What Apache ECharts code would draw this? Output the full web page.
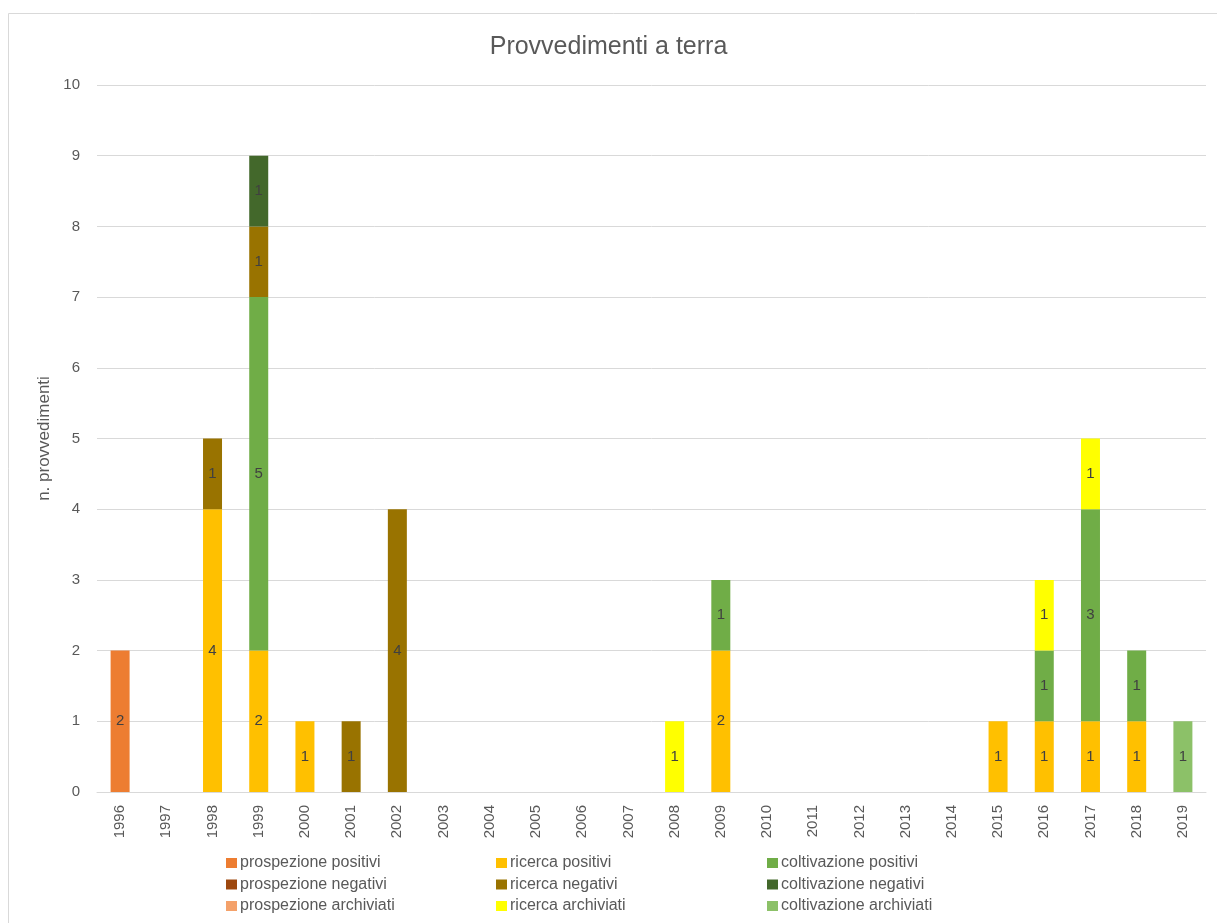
<!DOCTYPE html>
<html>
<head>
<meta charset="utf-8">
<title>Provvedimenti a terra</title>
<script src="https://cdn.jsdelivr.net/npm/echarts@6/dist/echarts.min.js"></script>
<style>
  html, body { margin: 0; padding: 0; background: #ffffff; }
  #chart { width: 1217px; height: 923px; }
</style>
</head>
<body>
<div id="chart"></div>
<script>
// Anni e conteggi dei provvedimenti per tipo ed esito
const years = ['1996','1997','1998','1999','2000','2001','2002','2003','2004','2005','2006','2007',
               '2008','2009','2010','2011','2012','2013','2014','2015','2016','2017','2018','2019'];

const prospezionePositivi   = [2,0,0,0,0,0,0,0,0,0,0,0, 0,0,0,0,0,0,0,0,0,0,0,0];
const ricercaPositivi       = [0,0,4,2,1,0,0,0,0,0,0,0, 0,2,0,0,0,0,0,1,1,1,1,0];
const coltivazionePositivi  = [0,0,0,5,0,0,0,0,0,0,0,0, 0,1,0,0,0,0,0,0,1,3,1,0];
const prospezioneNegativi   = [0,0,0,0,0,0,0,0,0,0,0,0, 0,0,0,0,0,0,0,0,0,0,0,0];
const ricercaNegativi       = [0,0,1,1,0,1,4,0,0,0,0,0, 0,0,0,0,0,0,0,0,0,0,0,0];
const coltivazioneNegativi  = [0,0,0,1,0,0,0,0,0,0,0,0, 0,0,0,0,0,0,0,0,0,0,0,0];
const prospezioneArchiviati = [0,0,0,0,0,0,0,0,0,0,0,0, 0,0,0,0,0,0,0,0,0,0,0,0];
const ricercaArchiviati     = [0,0,0,0,0,0,0,0,0,0,0,0, 1,0,0,0,0,0,0,0,1,1,0,0];
const coltivazioneArchiviati= [0,0,0,0,0,0,0,0,0,0,0,0, 0,0,0,0,0,0,0,0,0,0,0,1];

const yTicks = [0,1,2,3,4,5,6,7,8,9,10];

const seriesDefs = [
  { name: 'prospezione positivi',    data: prospezionePositivi,    color: '#ED7D31' },
  { name: 'ricerca positivi',        data: ricercaPositivi,        color: '#FFC000' },
  { name: 'coltivazione positivi',   data: coltivazionePositivi,   color: '#70AD47' },
  { name: 'prospezione negativi',    data: prospezioneNegativi,    color: '#9E480E' },
  { name: 'ricerca negativi',        data: ricercaNegativi,        color: '#997300' },
  { name: 'coltivazione negativi',   data: coltivazioneNegativi,   color: '#43682B' },
  { name: 'prospezione archiviati',  data: prospezioneArchiviati,  color: '#F4A16A' },
  { name: 'ricerca archiviati',      data: ricercaArchiviati,      color: '#FFFF00' },
  { name: 'coltivazione archiviati', data: coltivazioneArchiviati, color: '#8CC168' }
];

const FONT = 'Liberation Sans';
const TEXT = '#595959';

const series = seriesDefs.map(s => ({
  name: s.name,
  type: 'bar',
  stack: 'totale',
  barWidth: 19,
  data: s.data.map(v => (v === 0 ? null : v)),
  itemStyle: { color: s.color },
  label: {
    show: true,
    position: 'inside',
    color: '#404040',
    fontFamily: FONT,
    fontSize: 15,
    formatter: p => (p.value ? String(p.value) : '')
  },
  emphasis: { disabled: true }
}));

// Legenda su tre colonne: positivi / negativi / archiviati per ciascun tipo
function legendColumn(names, left) {
  return {
    orient: 'vertical',
    left: left,
    top: 855,
    height: 66,
    padding: 0,
    itemWidth: 11,
    itemHeight: 10,
    itemGap: 5.5,
    icon: 'rect',
    data: names,
    textStyle: { color: TEXT, fontFamily: FONT, fontSize: 16, lineHeight: 16, padding: [0, 0, 0, -2] }
  };
}

const chart = echarts.init(document.getElementById('chart'), null, { renderer: 'canvas' });
chart.setOption({
  animation: false,
  backgroundColor: '#ffffff',
  graphic: [{
    type: 'rect',
    shape: { x: 8.5, y: 13.5, width: 1240, height: 940 },
    style: { fill: 'none', stroke: '#D9D9D9', lineWidth: 1 },
    silent: true,
    z: -10
  }],
  title: {
    text: 'Provvedimenti a terra',
    left: 'center',
    top: 30,
    textStyle: { color: TEXT, fontFamily: FONT, fontSize: 25, fontWeight: 'normal' }
  },
  legend: [
    legendColumn(['prospezione positivi', 'prospezione negativi', 'prospezione archiviati'], 226),
    legendColumn(['ricerca positivi', 'ricerca negativi', 'ricerca archiviati'], 496),
    legendColumn(['coltivazione positivi', 'coltivazione negativi', 'coltivazione archiviati'], 767)
  ],
  grid: { left: 97, right: 11, top: 85, bottom: 131, containLabel: false },
  xAxis: {
    type: 'category',
    data: years,
    axisLine: { lineStyle: { color: '#D9D9D9' } },
    axisTick: { show: false },
    axisLabel: { rotate: 90, color: TEXT, fontFamily: FONT, fontSize: 15, margin: 13, interval: 0 }
  },
  yAxis: {
    type: 'value',
    min: yTicks[0],
    max: yTicks[yTicks.length - 1],
    interval: 1,
    name: 'n. provvedimenti',
    nameLocation: 'middle',
    nameGap: 42,
    nameTextStyle: { color: TEXT, fontFamily: FONT, fontSize: 17 },
    axisLine: { show: false },
    axisTick: { show: false },
    axisLabel: { color: TEXT, fontFamily: FONT, fontSize: 15, margin: 17 },
    splitLine: { lineStyle: { color: '#D9D9D9' } }
  },
  series: series
});
</script>
</body>
</html>
